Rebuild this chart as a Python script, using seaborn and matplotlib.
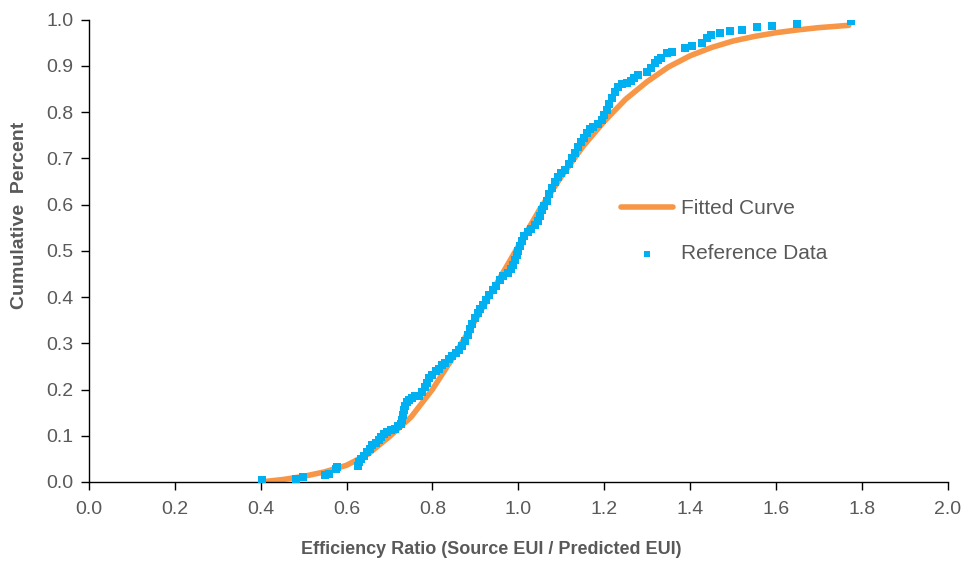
import matplotlib
matplotlib.use('Agg')
import matplotlib.pyplot as plt
import pandas as pd
import seaborn as sns

# ---- dados ----
ref_x = [0.403, 0.482, 0.498, 0.550, 0.560, 0.575, 0.577, 0.626, 0.630, 0.634,
         0.640, 0.648, 0.655, 0.660, 0.668, 0.675, 0.680, 0.688, 0.695, 0.703,
         0.712, 0.720, 0.726, 0.729, 0.731, 0.733, 0.736, 0.740, 0.745, 0.752,
         0.760, 0.768, 0.775, 0.782, 0.788, 0.793, 0.800, 0.808, 0.815, 0.822,
         0.830, 0.838, 0.845, 0.855, 0.862, 0.870, 0.876, 0.882, 0.888, 0.893,
         0.900, 0.906, 0.912, 0.918, 0.926, 0.933, 0.941, 0.948, 0.957, 0.965,
         0.975, 0.983, 0.988, 0.992, 0.996, 1.000, 1.003, 1.008, 1.014, 1.022,
         1.030, 1.038, 1.045, 1.050, 1.055, 1.060, 1.066, 1.072, 1.078, 1.085,
         1.092, 1.100, 1.110, 1.118, 1.125, 1.132, 1.139, 1.146, 1.152, 1.159,
         1.167, 1.175, 1.185, 1.194, 1.200, 1.206, 1.212, 1.218, 1.225, 1.232,
         1.242, 1.253, 1.262, 1.270, 1.278, 1.300, 1.310, 1.318, 1.325, 1.332,
         1.346, 1.357, 1.388, 1.404, 1.428, 1.440, 1.450, 1.469, 1.492, 1.520,
         1.556, 1.590, 1.648, 1.774]
ref_y = [0.004, 0.007, 0.010, 0.015, 0.017, 0.028, 0.032, 0.035, 0.043, 0.050,
         0.057, 0.065, 0.072, 0.080, 0.085, 0.090, 0.097, 0.103, 0.108, 0.112,
         0.115, 0.120, 0.126, 0.135, 0.145, 0.155, 0.165, 0.172, 0.178, 0.182,
         0.185, 0.187, 0.195, 0.205, 0.215, 0.225, 0.232, 0.240, 0.245, 0.252,
         0.258, 0.265, 0.272, 0.278, 0.285, 0.295, 0.305, 0.318, 0.330, 0.342,
         0.355, 0.366, 0.375, 0.383, 0.394, 0.405, 0.416, 0.425, 0.437, 0.445,
         0.452, 0.460, 0.470, 0.480, 0.490, 0.500, 0.510, 0.522, 0.532, 0.540,
         0.548, 0.555, 0.565, 0.575, 0.588, 0.598, 0.608, 0.622, 0.635, 0.648,
         0.660, 0.668, 0.675, 0.688, 0.700, 0.712, 0.725, 0.735, 0.745, 0.755,
         0.763, 0.768, 0.775, 0.784, 0.795, 0.805, 0.818, 0.830, 0.843, 0.855,
         0.860, 0.864, 0.868, 0.873, 0.881, 0.888, 0.895, 0.907, 0.914, 0.918,
         0.928, 0.931, 0.940, 0.944, 0.950, 0.960, 0.966, 0.972, 0.976, 0.978,
         0.985, 0.986, 0.991, 0.998]

fit_x = [0.40, 0.45, 0.50, 0.55, 0.60, 0.65, 0.70, 0.75, 0.80, 0.85,
         0.90, 0.95, 1.00, 1.05, 1.10, 1.15, 1.20, 1.25, 1.30, 1.35,
         1.40, 1.45, 1.50, 1.55, 1.60, 1.65, 1.70, 1.77]
fit_y = [0.000, 0.005, 0.012, 0.022, 0.036, 0.060, 0.098, 0.140, 0.200, 0.272,
         0.350, 0.430, 0.510, 0.590, 0.660, 0.725, 0.780, 0.828, 0.866, 0.898,
         0.922, 0.940, 0.954, 0.964, 0.972, 0.978, 0.983, 0.988]

x_ticks = [0.0, 0.2, 0.4, 0.6, 0.8, 1.0, 1.2, 1.4, 1.6, 1.8, 2.0]
y_ticks = [0.0, 0.1, 0.2, 0.3, 0.4, 0.5, 0.6, 0.7, 0.8, 0.9, 1.0]

df_ref = pd.DataFrame({'x': ref_x, 'y': ref_y})
df_fit = pd.DataFrame({'x': fit_x, 'y': fit_y})

# ---- estilo ----
sns.set_style('ticks')
plt.rcParams['font.family'] = ['Liberation Sans', 'DejaVu Sans']
cinza = '#595959'
laranja = '#F79646'
azul = '#00B0F0'

fig = plt.figure(figsize=(9.66, 5.65), dpi=100)
ax = fig.add_axes([0.092, 0.147, 0.889, 0.818])

sns.lineplot(data=df_fit, x='x', y='y', color=laranja, linewidth=4, ax=ax,
             label='Fitted Curve', solid_capstyle='round', zorder=2)
sns.scatterplot(data=df_ref, x='x', y='y', color=azul, marker='s', s=30,
                linewidth=0, ax=ax, label='Reference Data', zorder=3)

ax.set_xlim(0, 2.0)
ax.set_ylim(0, 1.0)
ax.set_xticks(x_ticks)
ax.set_yticks(y_ticks)
ax.set_xticklabels([f'{v:.1f}' for v in x_ticks])
ax.set_yticklabels([f'{v:.1f}' for v in y_ticks])
ax.tick_params(axis='both', colors='black', labelcolor=cinza, labelsize=14,
               length=6, width=1, direction='out')
ax.tick_params(axis='x', pad=8)
ax.tick_params(axis='y', pad=5)
for s in ['left', 'bottom']:
    ax.spines[s].set_color('black')
    ax.spines[s].set_linewidth(1)
sns.despine(ax=ax)

ax.set_xlabel('Efficiency Ratio (Source EUI / Predicted EUI)', fontsize=13,
              fontweight='bold', color=cinza)
ax.set_ylabel('Cumulative  Percent', fontsize=14, fontweight='bold', color=cinza)
ax.xaxis.set_label_coords(0.468, -0.128)
ax.yaxis.set_label_coords(-0.071, 0.576)

leg = ax.legend(loc='upper left', bbox_to_anchor=(0.598, 0.652), frameon=False,
                fontsize=15, labelcolor=cinza, handlelength=2.5,
                labelspacing=1.25, handletextpad=0.35, markerscale=0.8)

plt.savefig('out.png', dpi=100)
